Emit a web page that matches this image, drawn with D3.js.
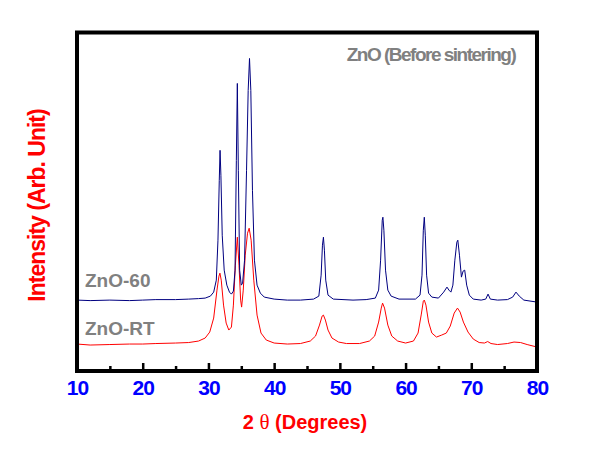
<!DOCTYPE html>
<html><head><meta charset="utf-8">
<script src="https://cdn.jsdelivr.net/npm/d3@7"></script>
<style>body{margin:0;background:#fff}svg{display:block}</style>
</head><body>
<svg id="chart" width="604" height="460"></svg>
<script>
// 2θ (degrees) and intensity (arb. units)
const angles60 = [10,12,15,18,20,22,25,27,28.5,29.5,30.3,30.8,31.2,31.45,31.65,31.77,31.9,32.1,32.4,32.8,33.2,33.5,33.8,34.05,34.25,34.4,34.55,34.75,35,35.2,35.5,35.8,36.05,36.25,36.45,36.7,37,37.4,37.9,38.5,40,42,44,46,46.8,47.15,47.35,47.5,47.65,47.85,48.2,49,52,54,55.4,55.9,56.2,56.45,56.55,56.7,56.95,57.3,57.8,59,61.5,62.2,62.5,62.7,62.85,63,63.2,63.5,64,65,65.8,66.3,66.6,66.9,67.2,67.5,67.8,67.95,68.2,68.5,68.75,69,69.3,69.7,70.3,71.5,72.2,72.55,72.9,74,75.5,76.3,76.8,77.3,78,80];
const intensity60 = [710,705,710,705,710,715,715,720,725,730,750,790,910,1310,1910,2210,1960,1360,1010,860,790,770,800,1010,2110,2880,2010,1010,860,880,1110,2010,2810,3130,2810,1810,1110,860,780,740,720,710,710,720,750,960,1260,1340,1210,910,760,720,710,715,730,810,1110,1510,1540,1410,1010,810,750,720,720,760,960,1410,1540,1360,960,780,740,730,790,840,810,790,860,1110,1290,1310,1160,940,1000,1010,860,760,720,710,720,770,720,710,715,740,790,750,710,690];
const anglesRT = [10,12,15,18,20,22,25,27,28.5,29.5,30.2,30.8,31.3,31.6,31.75,31.95,32.3,32.7,33.1,33.5,33.8,34.1,34.4,34.65,34.9,35.05,35.3,35.6,35.95,36.2,36.5,36.9,37.4,38,38.8,40,42,44,45.5,46.3,46.9,47.3,47.5,47.8,48.2,48.8,49.8,51,53,54.5,55.3,55.9,56.3,56.5,56.8,57.3,57.9,58.8,60,61.2,61.9,62.4,62.7,62.85,63.1,63.5,64,64.7,65.5,66.2,66.8,67.4,67.9,68.3,68.8,69.5,70.3,71.2,72,72.5,73,74,75.5,76.5,77.5,78.5,80];
const intensityRT = [270,260,265,270,270,275,280,285,300,330,390,530,810,950,980,910,660,480,410,440,660,1060,1340,1060,710,640,810,1160,1380,1430,1310,910,560,380,310,280,270,275,300,350,460,550,560,510,410,330,290,275,275,300,350,490,630,680,630,460,350,300,280,300,380,570,700,710,660,490,380,340,360,380,450,580,630,590,490,390,320,285,280,295,275,265,275,290,285,265,240];
const xTicks = [10,20,30,40,50,60,70,80];
const xMinorTicks = [15,25,35,45,55,65,75];
const seriesNames = ["ZnO-60","ZnO-RT"];
const titleText = "ZnO (Before sintering)";
const xTitleParts = ["2 ", "\u03b8", " (Degrees)"];
const yTitle = "Intensity (Arb. Unit)";

const svg = d3.select("#chart");
const L = 77, R = 537, T = 32.5, B = 371;
const x = d3.scaleLinear().domain([10,80]).range([L,R]);
const y = d3.scaleLinear().domain([0,3390]).range([B,T]);
const font = "Liberation Sans, Arial, sans-serif";

const line = d3.line().x(d=>x(d[0])).y(d=>y(d[1]));
svg.append("path").datum(anglesRT.map((a,i)=>[a,intensityRT[i]]))
  .attr("d",line).attr("fill","none").attr("stroke","#ff0000").attr("stroke-width",1);
svg.append("path").datum(angles60.map((a,i)=>[a,intensity60[i]]))
  .attr("d",line).attr("fill","none").attr("stroke","#000080").attr("stroke-width",1);

// frame
svg.append("rect").attr("x",L).attr("y",T).attr("width",R-L).attr("height",B-T)
  .attr("fill","none").attr("stroke","#000").attr("stroke-width",4);

// x axis (ticks inward)
const ax = svg.append("g").attr("transform",`translate(0,${B})`)
  .call(d3.axisBottom(x).tickValues(xTicks).tickSize(-8).tickPadding(9).tickFormat(d3.format("d")));
ax.select(".domain").remove();
ax.selectAll(".tick line").attr("stroke","#000").attr("stroke-width",2.5);
ax.selectAll(".tick text").attr("fill","#0000ff").attr("font-family",font)
  .attr("font-weight","bold").attr("font-size","21px").attr("letter-spacing","-1").attr("dy","0.71em");
const axm = svg.append("g").attr("transform",`translate(0,${B})`)
  .call(d3.axisBottom(x).tickValues(xMinorTicks).tickSize(-5).tickFormat(""));
axm.select(".domain").remove();
axm.selectAll(".tick line").attr("stroke","#000").attr("stroke-width",2.5);

const xt = svg.append("text").attr("x",305).attr("y",429).attr("text-anchor","middle")
  .attr("font-family",font).attr("font-weight","bold").attr("font-size","20px").attr("fill","#ff0000");
xt.append("tspan").text(xTitleParts[0]);
xt.append("tspan").attr("font-family","Liberation Serif, Times New Roman, serif").attr("font-weight","normal").attr("font-size","21px").text(xTitleParts[1]);
xt.append("tspan").text(xTitleParts[2]);

svg.append("text").attr("transform","translate(45,205.5) rotate(-90)").attr("text-anchor","middle")
  .attr("font-family",font).attr("font-weight","bold").attr("font-size","23px").attr("letter-spacing","-1")
  .attr("fill","#ff0000").text(yTitle);
svg.append("text").attr("x",431).attr("y",60.5).attr("text-anchor","middle")
  .attr("font-family",font).attr("font-weight","bold").attr("font-size","19px").attr("fill","#808080")
  .attr("letter-spacing","-1.5").text(titleText);
svg.append("text").attr("x",85).attr("y",287)
  .attr("font-family",font).attr("font-weight","bold").attr("font-size","19px").attr("fill","#808080")
  .text(seriesNames[0]);
svg.append("text").attr("x",85).attr("y",335)
  .attr("font-family",font).attr("font-weight","bold").attr("font-size","19px").attr("fill","#808080")
  .text(seriesNames[1]);
</script>
</body></html>
